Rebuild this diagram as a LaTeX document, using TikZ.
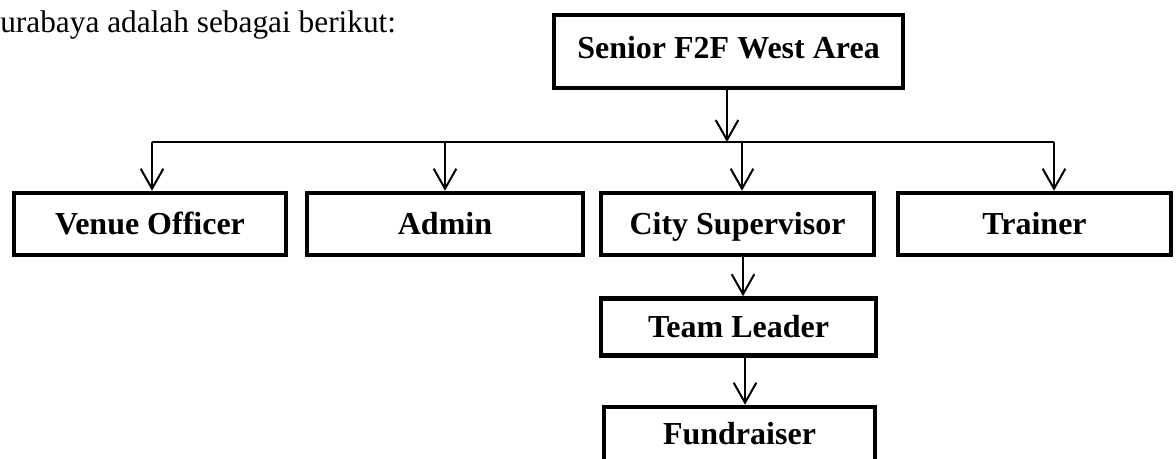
\documentclass[tikz,border=0pt]{standalone}
\usepackage{fontspec}
\setmainfont{Liberation Serif}
\usetikzlibrary{arrows.meta}
\tikzset{
  box/.style={draw, line width=3.4pt, inner sep=0pt, font=\fontsize{24}{28}\selectfont\bfseries, align=center, text height=16pt, text depth=0pt},
  conn/.style={line width=1.5pt},
  arr/.style={conn, -{Straight Barb[length=15pt, width=17pt, line width=1.5pt]}},
  body/.style={font=\fontsize{23.5}{28}\selectfont, inner sep=0pt, anchor=base west}
}
\begin{document}
\begin{tikzpicture}[x=0.75pt, y=-0.75pt]
\clip (0,0) rectangle (1176,459);
\fill[white] (0,0) rectangle (1176,459);
\node[body] (intro) at (0,33) {urabaya adalah sebagai berikut:};
\node[box, text depth=6.2pt, minimum width=349*0.75pt, minimum height=73*0.75pt] (top) at (728.5,51.5) {Senior F2F West Area};
\node[box, minimum width=272*0.75pt, minimum height=62*0.75pt] (venue) at (150,224) {Venue Officer};
\node[box, minimum width=276*0.75pt, minimum height=62*0.75pt] (admin) at (445,224) {Admin};
\node[box, minimum width=273*0.75pt, minimum height=62*0.75pt] (city) at (737.5,224) {City Supervisor};
\node[box, minimum width=273*0.75pt, minimum height=62*0.75pt] (trainer) at (1034.5,224) {Trainer};
\node[box, minimum width=275*0.75pt, minimum height=57*0.75pt] (team) at (738.5,327) {Team Leader};
\node[box, minimum width=271*0.75pt, minimum height=54*0.75pt] (fund) at (739.5,434) {Fundraiser};
\coordinate (b1) at (152,142);
\coordinate (b2) at (445,142);
\coordinate (b3) at (742,142);
\coordinate (b4) at (1054,142);
\coordinate (t0) at (727,142);
\coordinate (c2) at (743,0);
\coordinate (c3) at (745,0);
\draw[arr] (t0 |- top.south) -- (t0);
\draw[conn] (b1) -- (b4);
\draw[arr] (b1) -- (b1 |- venue.north);
\draw[arr] (b2) -- (b2 |- admin.north);
\draw[arr] (b3) -- (b3 |- city.north);
\draw[arr] (b4) -- (b4 |- trainer.north);
\draw[arr] (c2 |- city.south) -- (c2 |- team.north);
\draw[arr] (c3 |- team.south) -- (c3 |- fund.north);
\end{tikzpicture}
\end{document}
